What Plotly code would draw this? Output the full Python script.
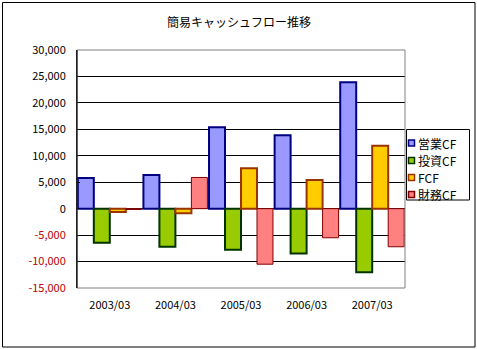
import plotly.graph_objects as go

categories = ["2003/03", "2004/03", "2005/03", "2006/03", "2007/03"]
series_names = ["営業CF", "投資CF", "FCF", "財務CF"]
eigyo = [5800, 6350, 15400, 13900, 23900]
toshi = [-6450, -7200, -7750, -8500, -12000]
fcf = [-650, -850, 7650, 5400, 11900]
zaimu = [-150, 5900, -10500, -5500, -7200]
tick_vals = [30000, 25000, 20000, 15000, 10000, 5000, 0, -5000, -10000, -15000]

fills = ["#9999FF", "#99CC00", "#FFCC00", "#FF8080"]
borders = ["#000080", "#003300", "#993300", "#800000"]
bwidths = [2, 2, 2, 1]

FONT = "Noto Sans CJK JP"
fig = go.Figure()
for name, vals, fc, bc, bw in zip(series_names, [eigyo, toshi, fcf, zaimu], fills, borders, bwidths):
    fig.add_trace(go.Bar(x=categories, y=vals, name=name,
                         marker=dict(color=fc, line=dict(color=bc, width=bw))))

def fmt(v):
    s = f"{abs(v):,}"
    if v < 0:
        return f'<span style="color:#C00000">-{s}</span>'
    return s

L, R, T, B = 77, 405, 50, 288
W, H = 477, 349
pw, ph = R - L, B - T

def px(x):
    return (x - L) / pw

def py(y):
    return (B - y) / ph

shapes = [
    dict(type="rect", xref="paper", yref="paper", x0=0, x1=1, y0=0, y1=1,
         line=dict(color="#808080", width=1), layer="above"),
    dict(type="line", xref="paper", yref="paper", x0=0, x1=0, y0=0, y1=1,
         line=dict(color="black", width=1), layer="above"),
    dict(type="rect", xref="paper", yref="paper",
         x0=px(2.5), x1=px(475), y0=py(347), y1=py(2.5),
         line=dict(color="black", width=1), layer="above"),
    # legend box
    dict(type="rect", xref="paper", yref="paper",
         x0=px(406.5), x1=px(469.5), y0=py(200), y1=py(129.5),
         line=dict(color="black", width=1), fillcolor="white", layer="above"),
]
annotations = []
row_y = [143, 160.5, 177.5, 194.5]
for name, fc, bc, ry in zip(series_names, fills, borders, row_y):
    shapes.append(dict(type="rect", xref="paper", yref="paper",
                       x0=px(408.5), x1=px(414.5), y0=py(ry + 3), y1=py(ry - 3),
                       line=dict(color=bc, width=1.5), fillcolor=fc, layer="above"))
    annotations.append(dict(text=name, xref="paper", yref="paper", x=px(416), y=py(ry),
                            xanchor="left", yanchor="middle", showarrow=False,
                            font=dict(size=12, family=FONT, color="black")))

fig.update_layout(
    width=W, height=H,
    margin=dict(l=L, r=W - R, t=T, b=H - B),
    paper_bgcolor="white", plot_bgcolor="white",
    font=dict(family=FONT, size=11, color="black"),
    barmode="group", bargap=0.025, bargroupgap=0,
    title=dict(text="簡易キャッシュフロー推移", x=px(239), xref="paper", xanchor="center",
               y=1 - 23 / H, yanchor="middle", font=dict(size=12, family=FONT)),
    showlegend=False,
    xaxis=dict(showgrid=False, showline=False, ticks="", tickfont=dict(size=11),
               ticklabelstandoff=9),
    yaxis=dict(range=[-15000, 30000], tickvals=tick_vals, ticktext=[fmt(v) for v in tick_vals],
               showgrid=True, gridcolor="black", gridwidth=1,
               zeroline=True, zerolinecolor="black", zerolinewidth=1,
               showline=True, linecolor="black", linewidth=1,
               ticks="inside", ticklen=3, tickcolor="black",
               ticklabelstandoff=8, tickfont=dict(size=11)),
    shapes=shapes,
    annotations=annotations,
)

fig.write_html("out.html")
